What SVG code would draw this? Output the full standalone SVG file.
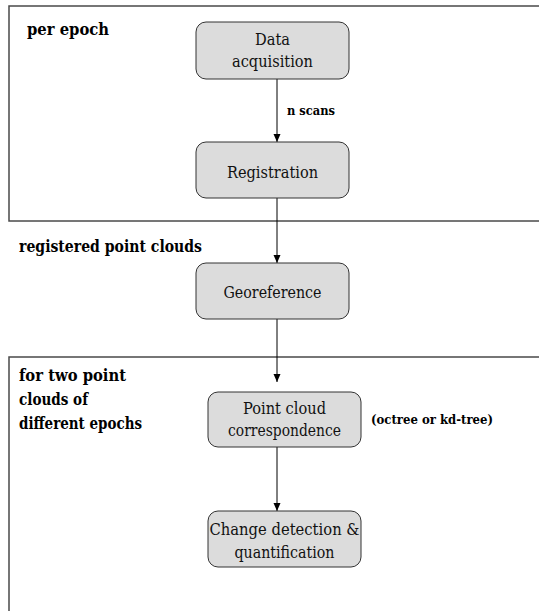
<svg xmlns="http://www.w3.org/2000/svg" width="539" height="611" viewBox="0 0 539 611">
<defs>
<style>
.frame{fill:none;stroke:#4a4a4a;stroke-width:1.5}
.node{fill:#dcdcdc;stroke:#333;stroke-width:1}
text{font-family:'DejaVu Serif','Liberation Serif',serif}
.nt{font-size:17px;fill:#111;text-anchor:middle}
.lbl{font-size:16.5px;font-weight:bold;fill:#000}
.sm{font-size:13.5px;font-weight:bold;fill:#000}
.edge{stroke:#000;stroke-width:1;fill:none;marker-end:url(#ah)}
</style>
<marker id="ah" viewBox="0 0 8 8" refX="8" refY="4" markerWidth="8" markerHeight="8" markerUnits="userSpaceOnUse" orient="auto">
<path d="M0,0.5 L8,4 L0,7.5 Z" fill="#000"/>
</marker>
</defs>
<rect width="539" height="611" fill="#fff"/>
<g id="frames">
<rect class="frame" x="9" y="6" width="540" height="215"/>
<rect class="frame" x="9" y="357" width="540" height="270"/>
</g>
<g id="labels">
<text class="lbl" x="27" y="35" textLength="82" lengthAdjust="spacingAndGlyphs">per epoch</text>
<text class="lbl" x="19" y="252" textLength="183" lengthAdjust="spacingAndGlyphs">registered point clouds</text>
<text class="lbl" x="19" y="381" textLength="107" lengthAdjust="spacingAndGlyphs">for two point</text>
<text class="lbl" x="19" y="405" textLength="69" lengthAdjust="spacingAndGlyphs">clouds of</text>
<text class="lbl" x="19" y="429" textLength="123" lengthAdjust="spacingAndGlyphs">different epochs</text>
</g>
<g id="connectors">
<line class="edge" x1="277" y1="79" x2="277" y2="142"/>
<line class="edge" x1="277" y1="198" x2="277" y2="263"/>
<line class="edge" x1="277" y1="319" x2="277" y2="382"/>
<line class="edge" x1="277" y1="447" x2="277" y2="511"/>
<text class="sm" x="287" y="115" textLength="48" lengthAdjust="spacingAndGlyphs">n scans</text>
<text class="sm" x="371" y="424" textLength="122" lengthAdjust="spacingAndGlyphs">(octree or kd-tree)</text>
</g>
<g id="n1">
<rect class="node" x="196" y="22" width="153" height="57" rx="10"/>
<text class="nt" x="272.5" y="45" textLength="35" lengthAdjust="spacingAndGlyphs">Data</text>
<text class="nt" x="272.5" y="67" textLength="81" lengthAdjust="spacingAndGlyphs">acquisition</text>
</g>
<g id="n2">
<rect class="node" x="196" y="142" width="153" height="56" rx="10"/>
<text class="nt" x="272.5" y="178" textLength="91" lengthAdjust="spacingAndGlyphs">Registration</text>
</g>
<g id="n3">
<rect class="node" x="196" y="263" width="153" height="56" rx="10"/>
<text class="nt" x="272.5" y="298" textLength="98" lengthAdjust="spacingAndGlyphs">Georeference</text>
</g>
<g id="n4">
<rect class="node" x="208" y="392" width="153" height="55" rx="10"/>
<text class="nt" x="284.5" y="414" textLength="83" lengthAdjust="spacingAndGlyphs">Point cloud</text>
<text class="nt" x="284.5" y="436" textLength="113" lengthAdjust="spacingAndGlyphs">correspondence</text>
</g>
<g id="n5">
<rect class="node" x="208" y="511" width="153" height="56" rx="10"/>
<text class="nt" x="284.5" y="535" textLength="150" lengthAdjust="spacingAndGlyphs">Change detection &amp;</text>
<text class="nt" x="284.5" y="558" textLength="100" lengthAdjust="spacingAndGlyphs">quantification</text>
</g>
</svg>
